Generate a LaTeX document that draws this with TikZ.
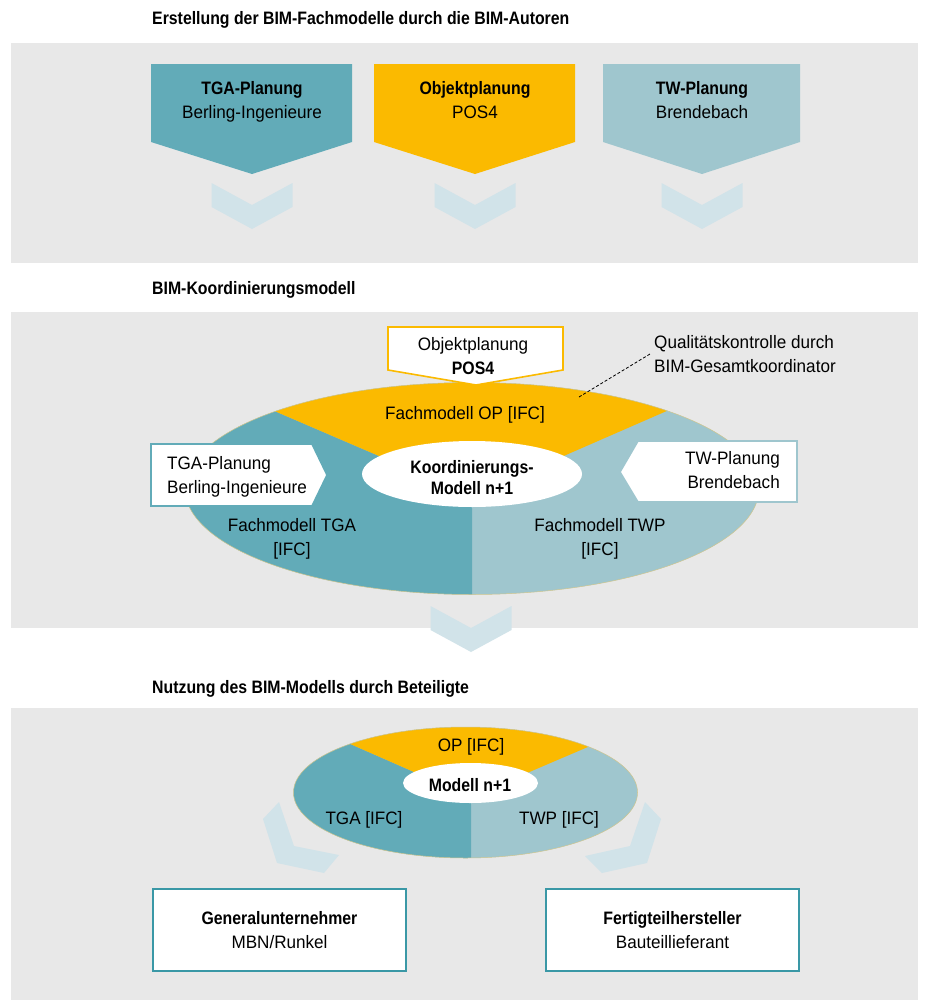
\documentclass[tikz,border=0pt]{standalone}
\usepackage{fontspec}
\setmainfont{Liberation Sans}[FakeStretch=0.95]
\newfontfamily\boldf{Liberation Sans}[FakeStretch=0.88]
\usetikzlibrary{shapes.geometric}

\definecolor{panelgray}{HTML}{E8E8E8}
\definecolor{tgacol}{HTML}{62ABB8}
\definecolor{opcol}{HTML}{FBBA00}
\definecolor{twcol}{HTML}{9FC6CE}
\definecolor{chevcol}{HTML}{D1E3E9}
\definecolor{boxborder}{HTML}{3A98A6}
\definecolor{rimcol}{HTML}{CFC58E}

\newcommand{\bt}[1]{{\boldf\bfseries #1}}

\tikzset{
  txt/.style={font=\fontsize{18}{24}\selectfont, inner sep=0pt, align=center, text=black},
  ttl/.style={font=\boldf\bfseries\fontsize{18}{24}\selectfont, inner sep=0pt, anchor=base west},
  panel/.style={fill=panelgray},
  chev/.pic={\fill[chevcol] (-40.5,0) -- (0,22) -- (40.5,0) -- (40.5,24) -- (0,46) -- (-40.5,24) -- cycle;},
  partybox/.style={draw=boxborder, line width=1.6pt, fill=white, minimum width=253pt,
    minimum height=82pt, font=\fontsize{18}{24}\selectfont, align=center, inner sep=0pt},
  callout/.style={fill=white, line width=1.6pt}
}

\begin{document}
\begin{tikzpicture}[x=1pt,y=-1pt]
\useasboundingbox (0,0) rectangle (925,1001);
\fill[white] (0,0) rectangle (925,1001);

% ---------- section titles ----------
\node[ttl] (t1) at (152,24.4) {Erstellung der BIM-Fachmodelle durch die BIM-Autoren};
\node[ttl] (t2) at (152,294.3) {BIM-Koordinierungsmodell};
\node[ttl] (t3) at (152,693.4) {Nutzung des BIM-Modells durch Beteiligte};

% ---------- background panels ----------
\fill[panel] (11,43) rectangle (918,263);
\fill[panel] (11,312) rectangle (918,628);
\fill[panel] (11,708) rectangle (918,1000);

% ---------- top row: authoring models ----------
\fill[tgacol] (151,64) -- (352,64) -- (352,142) -- (252,174) -- (151,142) -- cycle;
\fill[opcol]  (374,64) -- (575,64) -- (575,142) -- (475,174) -- (374,142) -- cycle;
\fill[twcol]  (603,64) -- (800,64) -- (800,142) -- (702,174) -- (603,142) -- cycle;
\node[txt] (tga) at (252,101.75) {\bt{TGA-Planung}\\Berling-Ingenieure};
\node[txt] (op)  at (475,100) {\bt{Objektplanung}\\POS4};
\node[txt] (tw)  at (702,100) {\bt{TW-Planung}\\Brendebach};
\pic at (252,183) {chev};
\pic at (475,183) {chev};
\pic at (702,183) {chev};

% ---------- coordination model ----------
\begin{scope}
  \clip (472,488.5) ellipse [x radius=287pt, y radius=106pt];
  \fill[twcol] (100,300) rectangle (850,700);
  \fill[tgacol] (472,496) -- (100,336) -- (100,700) -- (472,700) -- cycle;
  \fill[opcol] (472,496) -- (100,336) -- (100,300) -- (850,300) -- (850,331) -- cycle;
\end{scope}
\draw[rimcol, line width=0.5pt] (472,488.5) ellipse [x radius=287pt, y radius=106pt];
\node[ellipse, fill=white, minimum width=220pt, minimum height=66pt, inner sep=0pt] (koord) at (472,474) {};
\node[txt] (koordtxt) at (472,477.5) {\bt{Koordinierungs-}\\[-3pt]\bt{Modell n+1}};
\node[txt] (fmop)  at (465,414.8) {Fachmodell OP [IFC]};
\node[txt] (fmtga) at (292,539.25) {Fachmodell TGA\\{}[IFC]};
\node[txt] (fmtwp) at (600,539.25) {Fachmodell TWP\\{}[IFC]};

% callouts feeding the coordination model
\filldraw[callout, draw=opcol] (388,327) -- (563,327) -- (563,370) -- (476,385) -- (388,370) -- cycle;
\node[txt] (opin) at (473,356.5) {Objektplanung\\\bt{POS4}};
\filldraw[callout, draw=tgacol] (151,444) -- (312,444) -- (327,475) -- (312,506) -- (151,506) -- cycle;
\node[txt, align=left, anchor=west] (tgain) at (167,476.75) {TGA-Planung\\Berling-Ingenieure};
\filldraw[callout, draw=twcol] (620,472) -- (638,441) -- (797,441) -- (797,502) -- (638,502) -- cycle;
\node[txt, align=right, anchor=east] (twin) at (780,470) {TW-Planung\\Brendebach};

% quality control annotation
\node[txt, align=left, anchor=west, inner sep=4pt] (qk) at (650,354) {Qualitätskontrolle durch\\BIM-Gesamtkoordinator};
\coordinate (qkpt) at (579,397);
\draw[black, line width=0.8pt, dash pattern=on 3pt off 2pt] (qkpt) -- (qk.west);

\pic at (471,606) {chev};

% ---------- usage of the model ----------
\begin{scope}
  \clip (465.5,792.5) ellipse [x radius=172pt, y radius=65.5pt];
  \fill[twcol] (250,700) rectangle (700,900);
  \fill[tgacol] (471,797) -- (250,700) -- (250,900) -- (471,900) -- cycle;
  \fill[opcol] (471,797) -- (250,700) -- (700,699) -- cycle;
\end{scope}
\draw[rimcol, line width=0.5pt] (465.5,792.5) ellipse [x radius=172pt, y radius=65.5pt];
\node[ellipse, fill=white, minimum width=135pt, minimum height=40pt, inner sep=0pt] (modell) at (470.5,783) {};
\node[txt] (modelltxt) at (470,785) {\bt{Modell n+1}};
\node[txt] (opifc)  at (471,746.8) {OP [IFC]};
\node[txt] (tgaifc) at (364,819.8) {TGA [IFC]};
\node[txt] (twpifc) at (559,819.8) {TWP [IFC]};

% bent chevrons towards the participants
\fill[chevcol] (279,802) -- (294,846) -- (339,855) -- (324,873) -- (277,863) -- (263,819) -- cycle;
\fill[chevcol] (645,802) -- (630,846) -- (585,856) -- (602,873) -- (647,863) -- (661,819) -- cycle;

\node[partybox] (gu) at (279.5,930) {\bt{Generalunternehmer}\\MBN/Runkel};
\node[partybox] (fh) at (672.5,930) {\bt{Fertigteilhersteller}\\Bauteillieferant};
\end{tikzpicture}
\end{document}
